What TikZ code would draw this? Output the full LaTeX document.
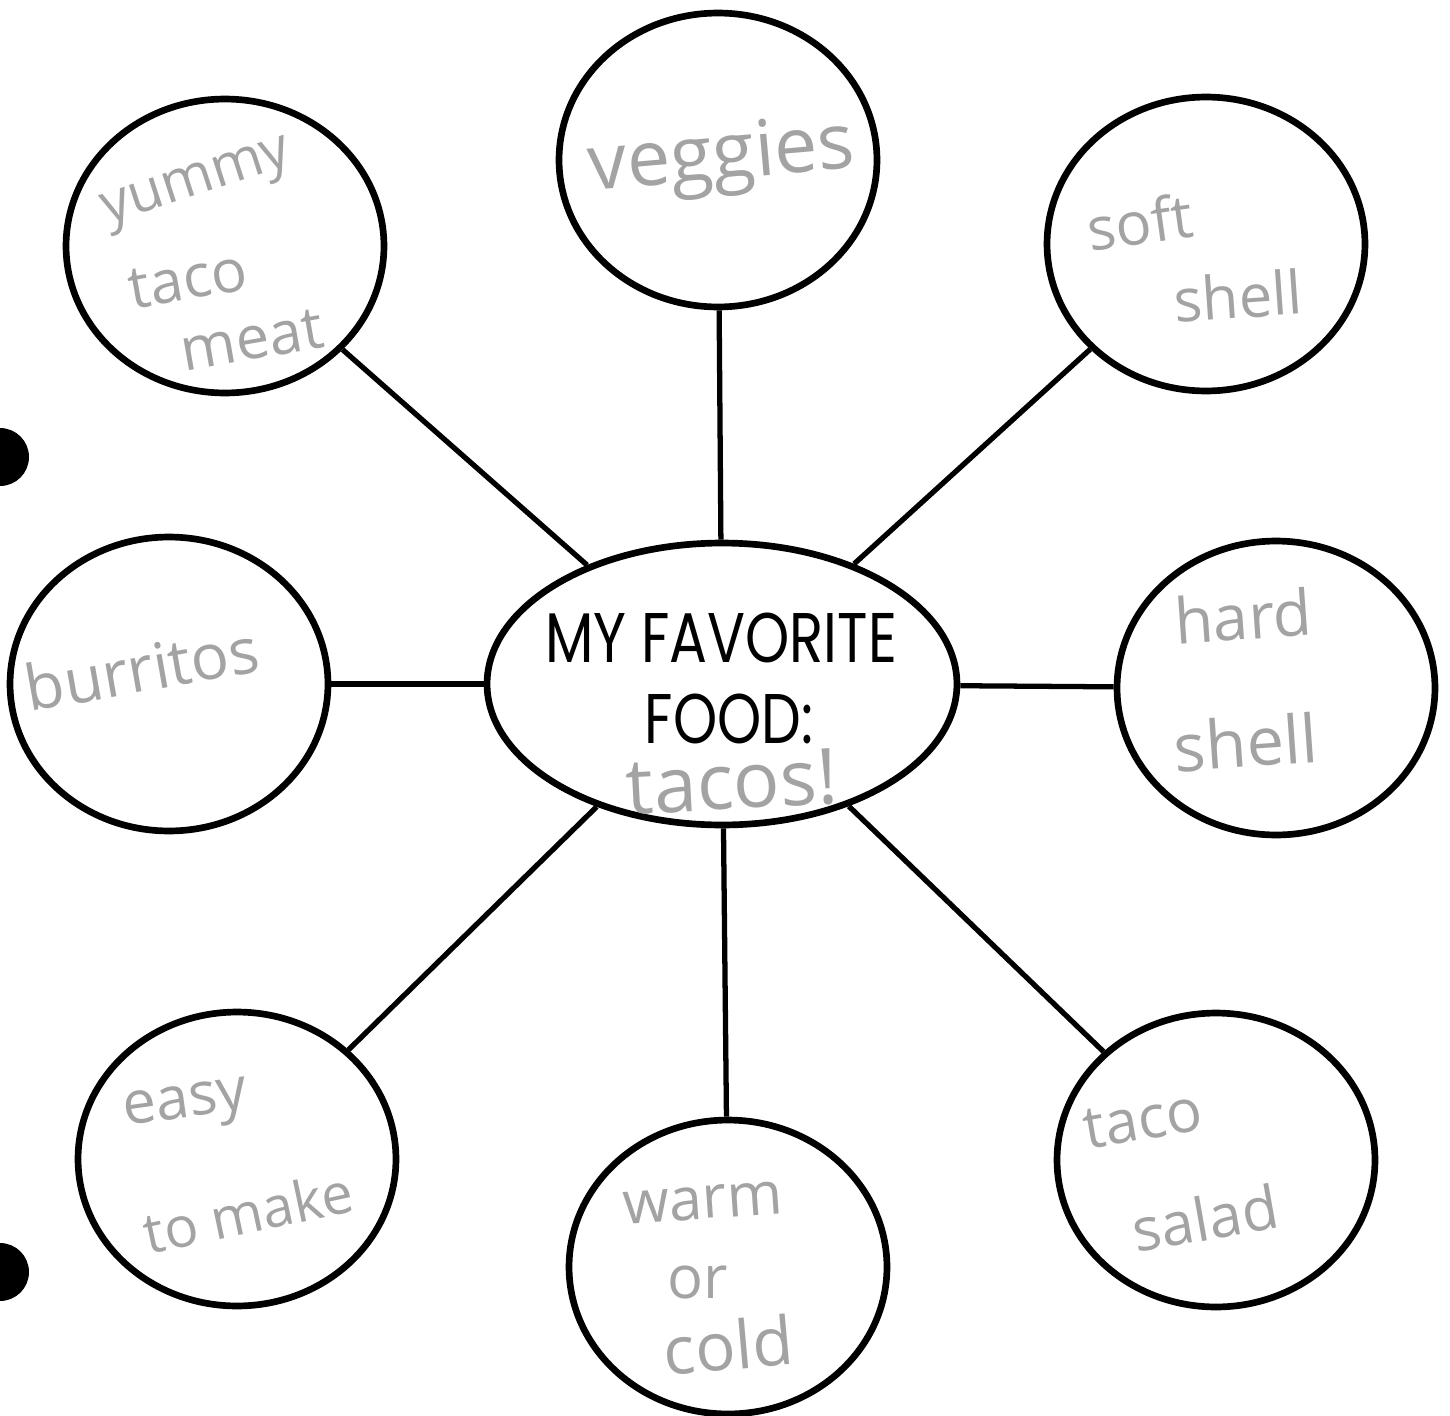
\documentclass[tikz,border=0pt]{standalone}
\usepackage{fontspec}
\setmainfont{Poppins}
\newfontfamily\handfont{Open Sans}
\usetikzlibrary{shapes.geometric}
\begin{document}
\begin{tikzpicture}[x=0.02cm,y=-0.02cm,
  bubble/.style={ellipse, draw=black, line width=3.8pt, minimum width=6.36cm, minimum height=5.88cm, inner sep=0pt},
  hub/.style={ellipse, draw=black, line width=3.8pt, minimum width=9.4cm, minimum height=5.64cm, inner sep=0pt},
  link/.style={line width=3pt},
  hand/.style={text=black!36, font=\handfont\fontsize{#1}{#1}\selectfont, inner sep=0pt},
  hand/.default=36,
  title/.style={font=\fontsize{40}{40}\selectfont, inner sep=0pt, anchor=base},
  hole/.style={fill=black}]
\useasboundingbox (0,0) rectangle (1450,1416);

% hub
\node[hub] (hub) at (722,684) {};
\node[title] (t1) at (721,662) {\scalebox{0.8}[1]{MY FAVORITE}};
\node[title] (t2) at (729,743) {\scalebox{0.8}[1]{FOOD:}};
\node[hand=44, rotate=3] (t3) at (732,782) {tacos!};

% bubbles
\node[bubble] (meat)   at (225,246)  {};
\node[bubble] (veg)    at (718,160)  {};
\node[bubble] (soft)   at (1206,244) {};
\node[bubble] (burr)   at (169,684)  {};
\node[bubble] (hard)   at (1276,688) {};
\node[bubble] (easy)   at (237,1159) {};
\node[bubble] (warm)   at (728,1267) {};
\node[bubble] (salad)  at (1216,1160){};

% handwritten texts
\node[hand=32, rotate=18] (meat1) at (198,186) {yummy};
\node[hand=34, rotate=10] (meat2) at (188,280) {taco};
\node[hand=34, rotate=10] (meat3) at (252,340) {meat};
\node[hand=44, rotate=5]  (veg1)  at (722,160) {veggies};
\node[hand=34, rotate=8]  (soft1) at (1140,222) {soft};
\node[hand=34, rotate=4]  (soft2) at (1238,296) {shell};
\node[hand=36, rotate=10] (burr1) at (142,668) {burritos};
\node[hand=36, rotate=4]  (hard1) at (1243,616) {hard};
\node[hand=38, rotate=4]  (hard2) at (1246,742) {shell};
\node[hand=34, rotate=8]  (easy1) at (186,1108) {easy};
\node[hand=32, rotate=12] (easy2) at (248,1212) {to make};
\node[hand=34, rotate=4]  (warm1) at (703,1203) {warm};
\node[hand=34, rotate=0]  (warm2) at (698,1282) {or};
\node[hand=38, rotate=5]  (warm3) at (728,1345) {cold};
\node[hand=34, rotate=10] (sal1)  at (1143,1120) {taco};
\node[hand=34, rotate=10] (sal2)  at (1205,1218) {salad};

% connectors
\draw[link] (hub) -- (meat);
\draw[link] (hub) -- (veg);
\draw[link] (hub) -- (soft);
\draw[link] (hub) -- (burr);
\draw[link] (hub) -- (hard);
\draw[link] (hub) -- (easy);
\draw[link] (hub) -- (warm);
\draw[link] (hub) -- (salad);

% punched holes
\fill[hole] (0,457) circle[radius=0.58cm];
\fill[hole] (0,1272) circle[radius=0.58cm];
\end{tikzpicture}
\end{document}
